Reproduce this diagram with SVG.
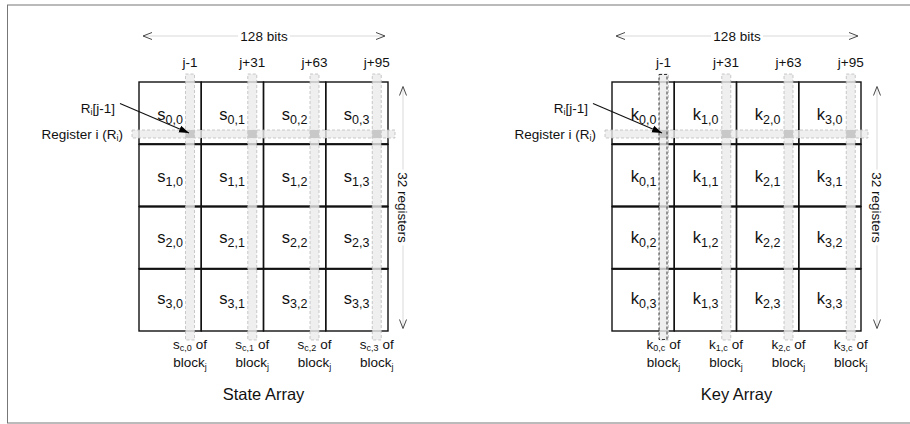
<svg xmlns="http://www.w3.org/2000/svg" width="910" height="424" viewBox="0 0 910 424">
<style>
text{font-family:"Liberation Sans",Arial,Helvetica,sans-serif;fill:#111}
.lbl{font-size:13.5px}
.cl{font-size:16.5px;text-anchor:end}
.sub{font-size:12.5px}
.bsub{font-size:9px}
.cell{fill:none;stroke:#111;stroke-width:1.4}
.row{stroke:#111;stroke-width:2;fill:none}
.vs{fill:#ebebeb;fill-opacity:0.8;stroke:#b4b4b4;stroke-width:0.7;stroke-dasharray:3 2}
.hs{fill:#ebebeb;fill-opacity:0.8;stroke:#b4b4b4;stroke-width:0.7;stroke-dasharray:3 2}
.ix{fill:#c8c8c8}
.sel{fill:none;stroke:#222;stroke-width:0.9;stroke-dasharray:3 2}
.dim{stroke:#cfcfcf;stroke-width:0.8;fill:none}
.chev{stroke:#333;stroke-width:0.9;fill:none}
.ptr{stroke:#111;stroke-width:1.1;fill:none}
.mid{text-anchor:middle}
</style>
<defs>
<marker id="ah" viewBox="0 0 10 10" refX="10" refY="5" markerWidth="10" markerHeight="10" orient="auto" markerUnits="userSpaceOnUse">
<path d="M0,1.5 L10,5 L0,8.5 Z" fill="#000"/>
</marker>
</defs>
<rect x="7.5" y="5" width="910" height="418" fill="#fff" stroke="#777" stroke-width="1"/>

<!-- LEFT PANEL: State Array -->
<g id="state-array">
<g id="s-grid">
<g id="s00"><rect class="cell" x="139" y="82" width="62.25" height="62.25"/><text class="cl" x="183" y="119.5">s<tspan class="sub" dy="4">0,0</tspan></text></g>
<g id="s01"><rect class="cell" x="201.25" y="82" width="62.25" height="62.25"/><text class="cl" x="245" y="119.5">s<tspan class="sub" dy="4">0,1</tspan></text></g>
<g id="s02"><rect class="cell" x="263.5" y="82" width="62.25" height="62.25"/><text class="cl" x="307.5" y="119.5">s<tspan class="sub" dy="4">0,2</tspan></text></g>
<g id="s03"><rect class="cell" x="325.75" y="82" width="62.25" height="62.25"/><text class="cl" x="369.5" y="119.5">s<tspan class="sub" dy="4">0,3</tspan></text></g>
<g id="s10"><rect class="cell" x="139" y="144.25" width="62.25" height="62.25"/><text class="cl" x="183" y="181.5">s<tspan class="sub" dy="4">1,0</tspan></text></g>
<g id="s11"><rect class="cell" x="201.25" y="144.25" width="62.25" height="62.25"/><text class="cl" x="245" y="181.5">s<tspan class="sub" dy="4">1,1</tspan></text></g>
<g id="s12"><rect class="cell" x="263.5" y="144.25" width="62.25" height="62.25"/><text class="cl" x="307.5" y="181.5">s<tspan class="sub" dy="4">1,2</tspan></text></g>
<g id="s13"><rect class="cell" x="325.75" y="144.25" width="62.25" height="62.25"/><text class="cl" x="369.5" y="181.5">s<tspan class="sub" dy="4">1,3</tspan></text></g>
<g id="s20"><rect class="cell" x="139" y="206.5" width="62.25" height="62.25"/><text class="cl" x="183" y="243">s<tspan class="sub" dy="4">2,0</tspan></text></g>
<g id="s21"><rect class="cell" x="201.25" y="206.5" width="62.25" height="62.25"/><text class="cl" x="245" y="243">s<tspan class="sub" dy="4">2,1</tspan></text></g>
<g id="s22"><rect class="cell" x="263.5" y="206.5" width="62.25" height="62.25"/><text class="cl" x="307.5" y="243">s<tspan class="sub" dy="4">2,2</tspan></text></g>
<g id="s23"><rect class="cell" x="325.75" y="206.5" width="62.25" height="62.25"/><text class="cl" x="369.5" y="243">s<tspan class="sub" dy="4">2,3</tspan></text></g>
<g id="s30"><rect class="cell" x="139" y="268.75" width="62.25" height="62.25"/><text class="cl" x="183" y="304">s<tspan class="sub" dy="4">3,0</tspan></text></g>
<g id="s31"><rect class="cell" x="201.25" y="268.75" width="62.25" height="62.25"/><text class="cl" x="245" y="304">s<tspan class="sub" dy="4">3,1</tspan></text></g>
<g id="s32"><rect class="cell" x="263.5" y="268.75" width="62.25" height="62.25"/><text class="cl" x="307.5" y="304">s<tspan class="sub" dy="4">3,2</tspan></text></g>
<g id="s33"><rect class="cell" x="325.75" y="268.75" width="62.25" height="62.25"/><text class="cl" x="369.5" y="304">s<tspan class="sub" dy="4">3,3</tspan></text></g>
<path class="row" d="M139,144.25H388M139,206.5H388M139,268.75H388"/>
</g>
<g id="s-register-strip">
<rect class="hs" x="132" y="130" width="263" height="8"/>
</g>
<g id="s-column-strips">
<rect class="vs" x="185.5" y="74" width="9" height="266"/>
<rect class="vs" x="247.75" y="74" width="9" height="266"/>
<rect class="vs" x="310" y="74" width="9" height="266"/>
<rect class="vs" x="372.25" y="74" width="9" height="266"/>
<rect class="ix" x="185.5" y="130" width="9" height="8"/>
<rect class="ix" x="247.75" y="130" width="9" height="8"/>
<rect class="ix" x="310" y="130" width="9" height="8"/>
<rect class="ix" x="372.25" y="130" width="9" height="8"/>
</g>
<g id="s-col-labels" class="lbl">
<text class="mid" x="190" y="67">j-1</text>
<text class="mid" x="252.25" y="67">j+31</text>
<text class="mid" x="314.5" y="67">j+63</text>
<text class="mid" x="376.75" y="67">j+95</text>
</g>
<g id="s-reg-labels" class="lbl">
<text x="115" y="113" text-anchor="end">R<tspan class="bsub" dy="2">i</tspan><tspan dy="-2">[j-1]</tspan></text>
<text x="123" y="139" text-anchor="end">Register i (R<tspan class="bsub" dy="2">i</tspan><tspan dy="-2">)</tspan></text>
</g>
<g id="s-bottom-labels" class="lbl">
<text class="mid" x="190" y="349">s<tspan class="bsub" dy="2">c,0</tspan><tspan dy="-2"> of</tspan></text>
<text class="mid" x="252.25" y="349">s<tspan class="bsub" dy="2">c,1</tspan><tspan dy="-2"> of</tspan></text>
<text class="mid" x="314.5" y="349">s<tspan class="bsub" dy="2">c,2</tspan><tspan dy="-2"> of</tspan></text>
<text class="mid" x="376.75" y="349">s<tspan class="bsub" dy="2">c,3</tspan><tspan dy="-2"> of</tspan></text>
<text class="mid" x="190" y="367">block<tspan class="bsub" dy="3">j</tspan></text>
<text class="mid" x="252.25" y="367">block<tspan class="bsub" dy="3">j</tspan></text>
<text class="mid" x="314.5" y="367">block<tspan class="bsub" dy="3">j</tspan></text>
<text class="mid" x="376.75" y="367">block<tspan class="bsub" dy="3">j</tspan></text>
</g>
<text id="s-title" class="mid" x="263.5" y="400" font-size="16.5">State Array</text>
</g>

<!-- RIGHT PANEL: Key Array -->
<g id="key-array" transform="translate(473,0)">
<g id="k-grid">
<g id="k00"><rect class="cell" x="139" y="82" width="62.25" height="62.25"/><text class="cl" x="183.5" y="119.5">k<tspan class="sub" dy="4">0,0</tspan></text></g>
<g id="k10"><rect class="cell" x="201.25" y="82" width="62.25" height="62.25"/><text class="cl" x="245.5" y="119.5">k<tspan class="sub" dy="4">1,0</tspan></text></g>
<g id="k20"><rect class="cell" x="263.5" y="82" width="62.25" height="62.25"/><text class="cl" x="307.5" y="119.5">k<tspan class="sub" dy="4">2,0</tspan></text></g>
<g id="k30"><rect class="cell" x="325.75" y="82" width="62.25" height="62.25"/><text class="cl" x="369.5" y="119.5">k<tspan class="sub" dy="4">3,0</tspan></text></g>
<g id="k01"><rect class="cell" x="139" y="144.25" width="62.25" height="62.25"/><text class="cl" x="183.5" y="181.5">k<tspan class="sub" dy="4">0,1</tspan></text></g>
<g id="k11"><rect class="cell" x="201.25" y="144.25" width="62.25" height="62.25"/><text class="cl" x="245.5" y="181.5">k<tspan class="sub" dy="4">1,1</tspan></text></g>
<g id="k21"><rect class="cell" x="263.5" y="144.25" width="62.25" height="62.25"/><text class="cl" x="307.5" y="181.5">k<tspan class="sub" dy="4">2,1</tspan></text></g>
<g id="k31"><rect class="cell" x="325.75" y="144.25" width="62.25" height="62.25"/><text class="cl" x="369.5" y="181.5">k<tspan class="sub" dy="4">3,1</tspan></text></g>
<g id="k02"><rect class="cell" x="139" y="206.5" width="62.25" height="62.25"/><text class="cl" x="183.5" y="243">k<tspan class="sub" dy="4">0,2</tspan></text></g>
<g id="k12"><rect class="cell" x="201.25" y="206.5" width="62.25" height="62.25"/><text class="cl" x="245.5" y="243">k<tspan class="sub" dy="4">1,2</tspan></text></g>
<g id="k22"><rect class="cell" x="263.5" y="206.5" width="62.25" height="62.25"/><text class="cl" x="307.5" y="243">k<tspan class="sub" dy="4">2,2</tspan></text></g>
<g id="k32"><rect class="cell" x="325.75" y="206.5" width="62.25" height="62.25"/><text class="cl" x="369.5" y="243">k<tspan class="sub" dy="4">3,2</tspan></text></g>
<g id="k03"><rect class="cell" x="139" y="268.75" width="62.25" height="62.25"/><text class="cl" x="183.5" y="304">k<tspan class="sub" dy="4">0,3</tspan></text></g>
<g id="k13"><rect class="cell" x="201.25" y="268.75" width="62.25" height="62.25"/><text class="cl" x="245.5" y="304">k<tspan class="sub" dy="4">1,3</tspan></text></g>
<g id="k23"><rect class="cell" x="263.5" y="268.75" width="62.25" height="62.25"/><text class="cl" x="307.5" y="304">k<tspan class="sub" dy="4">2,3</tspan></text></g>
<g id="k33"><rect class="cell" x="325.75" y="268.75" width="62.25" height="62.25"/><text class="cl" x="369.5" y="304">k<tspan class="sub" dy="4">3,3</tspan></text></g>
<path class="row" d="M139,144.25H388M139,206.5H388M139,268.75H388"/>
</g>
<g id="k-register-strip">
<rect class="hs" x="132" y="130" width="263" height="8"/>
</g>
<g id="k-column-strips">
<rect class="vs" x="186.5" y="74" width="9" height="266"/>
<rect class="vs" x="248.75" y="74" width="9" height="266"/>
<rect class="vs" x="311" y="74" width="9" height="266"/>
<rect class="vs" x="373.25" y="74" width="9" height="266"/>
<rect class="ix" x="186.5" y="130" width="9" height="8"/>
<rect class="ix" x="248.75" y="130" width="9" height="8"/>
<rect class="ix" x="311" y="130" width="9" height="8"/>
<rect class="ix" x="373.25" y="130" width="9" height="8"/>
<rect class="sel" x="186" y="74.5" width="8" height="265"/>
</g>
<g id="k-col-labels" class="lbl">
<text class="mid" x="190.5" y="67">j-1</text>
<text class="mid" x="253" y="67">j+31</text>
<text class="mid" x="315.5" y="67">j+63</text>
<text class="mid" x="377.75" y="67">j+95</text>
</g>
<g id="k-reg-labels" class="lbl">
<text x="115" y="113" text-anchor="end">R<tspan class="bsub" dy="2">i</tspan><tspan dy="-2">[j-1]</tspan></text>
<text x="123" y="139" text-anchor="end">Register i (R<tspan class="bsub" dy="2">i</tspan><tspan dy="-2">)</tspan></text>
</g>
<g id="k-bottom-labels" class="lbl">
<text class="mid" x="190.5" y="349">k<tspan class="bsub" dy="2">0,c</tspan><tspan dy="-2"> of</tspan></text>
<text class="mid" x="253" y="349">k<tspan class="bsub" dy="2">1,c</tspan><tspan dy="-2"> of</tspan></text>
<text class="mid" x="315.5" y="349">k<tspan class="bsub" dy="2">2,c</tspan><tspan dy="-2"> of</tspan></text>
<text class="mid" x="377.75" y="349">k<tspan class="bsub" dy="2">3,c</tspan><tspan dy="-2"> of</tspan></text>
<text class="mid" x="190.5" y="367">block<tspan class="bsub" dy="3">j</tspan></text>
<text class="mid" x="253" y="367">block<tspan class="bsub" dy="3">j</tspan></text>
<text class="mid" x="315.5" y="367">block<tspan class="bsub" dy="3">j</tspan></text>
<text class="mid" x="377.75" y="367">block<tspan class="bsub" dy="3">j</tspan></text>
</g>
<text id="k-title" class="mid" x="263.5" y="400" font-size="16.5">Key Array</text>
</g>

<!-- CONNECTORS -->
<g id="connectors">
<g id="s-bits-dim" transform="translate(264,36)">
<path class="dim" d="M-120,0H-26M26,0H120"/>
<polyline class="chev" points="-112,-3.5 -121,0 -112,3.5"/>
<polyline class="chev" points="112,-3.5 121,0 112,3.5"/>
<text class="lbl mid" x="0" y="5">128 bits</text>
</g>
<g id="s-regs-dim" transform="translate(403,207.5) rotate(90)">
<path class="dim" d="M-120,0H-38M38,0H120"/>
<polyline class="chev" points="-112,-3.5 -121,0 -112,3.5"/>
<polyline class="chev" points="112,-3.5 121,0 112,3.5"/>
<text class="lbl mid" x="0" y="5">32 registers</text>
</g>
<g id="k-bits-dim" transform="translate(737,36)">
<path class="dim" d="M-120,0H-26M26,0H120"/>
<polyline class="chev" points="-112,-3.5 -121,0 -112,3.5"/>
<polyline class="chev" points="112,-3.5 121,0 112,3.5"/>
<text class="lbl mid" x="0" y="5">128 bits</text>
</g>
<g id="k-regs-dim" transform="translate(877,207.5) rotate(90)">
<path class="dim" d="M-120,0H-38M38,0H120"/>
<polyline class="chev" points="-112,-3.5 -121,0 -112,3.5"/>
<polyline class="chev" points="112,-3.5 121,0 112,3.5"/>
<text class="lbl mid" x="0" y="5">32 registers</text>
</g>
<line id="s-ptr" class="ptr" x1="120" y1="103.5" x2="189" y2="133" marker-end="url(#ah)"/>
<line id="k-ptr" class="ptr" x1="593" y1="103.5" x2="662" y2="133" marker-end="url(#ah)"/>
</g>
</svg>
